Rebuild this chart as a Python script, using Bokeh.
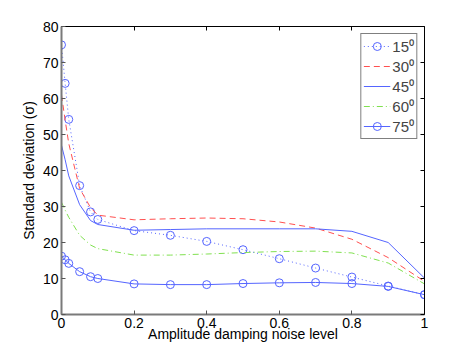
from bokeh.plotting import figure
from bokeh.models import Range1d, LinearAxis, FixedTicker, Legend, LegendItem, CustomJSTickFormatter
from bokeh.embed import file_html
from bokeh.resources import INLINE

# noise levels
x = [0, 0.01, 0.02, 0.05, 0.08, 0.1, 0.2, 0.3, 0.4, 0.5, 0.6, 0.7, 0.8, 0.9, 1.0]
# standard deviation for each angle
s15 = [74.9, 64.2, 54.2, 35.8, 28.5, 26.4, 23.3, 22.0, 20.3, 18.0, 15.5, 12.9, 10.4, 7.9, 5.5]
s30 = [61.0, 54.0, 47.5, 35.0, 29.7, 27.6, 26.3, 26.6, 26.8, 26.6, 25.7, 24.0, 20.9, 15.8, 9.2]
s45 = [47.0, 43.0, 38.5, 30.5, 26.1, 25.0, 23.4, 23.6, 23.8, 23.8, 23.8, 23.8, 23.1, 20.0, 10.1]
s60 = [31.2, 29.0, 27.0, 22.0, 19.3, 18.3, 16.5, 16.5, 16.8, 17.2, 17.5, 17.6, 17.1, 14.3, 8.5]
s75 = [16.2, 15.2, 14.2, 11.9, 10.5, 10.0, 8.5, 8.3, 8.3, 8.6, 8.8, 8.9, 8.6, 7.8, 5.5]
labels = ["15\u2070", "30\u2070", "45\u2070", "60\u2070", "75\u2070"]
xticks = [0, 0.2, 0.4, 0.6, 0.8, 1]
yticks = [0, 10, 20, 30, 40, 50, 60, 70, 80]

FONT = "Liberation Sans"
BLUE = "#5565ff"
RED = "#ff5050"
GREEN = "#80e050"

p = figure(width=453, height=344, output_backend="svg", toolbar_location=None,
           x_range=Range1d(0, 1), y_range=Range1d(0, 80),
           min_border_left=61, min_border_right=29, min_border_top=26, min_border_bottom=30)
p.xgrid.visible = False
p.ygrid.visible = False
p.outline_line_color = None
p.background_fill_color = "white"
p.border_fill_color = "white"

for ax, ticks in ((p.xaxis[0], xticks), (p.yaxis[0], yticks)):
    ax.ticker = FixedTicker(ticks=ticks)
    ax.major_tick_in = 4
    ax.major_tick_out = 0
    ax.minor_tick_line_color = None
    ax.axis_line_color = "#7a7a7a"
    ax.axis_line_width = 2
    ax.major_tick_line_color = "#555555"
    ax.major_label_text_font = FONT
    ax.major_label_text_font_size = "14px"
    ax.major_label_text_color = "black"
    ax.axis_label_text_font = FONT
    ax.axis_label_text_font_size = "14px"
    ax.axis_label_text_font_style = "normal"
    ax.axis_label_text_color = "black"

p.xaxis[0].axis_label = "Amplitude damping noise level"
p.xaxis[0].major_label_standoff = 3
p.xaxis[0].axis_label_standoff = -5
p.yaxis[0].axis_label = "Standard deviation (\u03c3)"
p.yaxis[0].major_label_standoff = 3
p.yaxis[0].axis_label_standoff = 3
p.xaxis[0].major_label_overrides = {0: "0", 1: "1"}

blank = CustomJSTickFormatter(code="return ''")
top = LinearAxis(ticker=FixedTicker(ticks=xticks), formatter=blank, major_tick_in=4, major_tick_out=0,
                 minor_tick_line_color=None, axis_line_color="black", major_label_text_font_size="0px",
                 major_label_standoff=0)
right = LinearAxis(ticker=FixedTicker(ticks=yticks), formatter=blank, major_tick_in=4, major_tick_out=0,
                   minor_tick_line_color=None, axis_line_color="black", major_label_text_font_size="0px",
                   major_label_standoff=0)
p.add_layout(top, "above")
p.add_layout(right, "right")

r15 = p.line(x, s15, line_color=BLUE, line_width=1, line_dash="1 3")
c15 = p.scatter(x, s15, marker="circle", size=8, fill_color=None, line_color=BLUE, line_width=1)
r30 = p.line(x, s30, line_color=RED, line_width=1, line_dash="6 4")
r45 = p.line(x, s45, line_color=BLUE, line_width=1)
r60 = p.line(x, s60, line_color=GREEN, line_width=1, line_dash="6 3 1 3")
r75 = p.line(x, s75, line_color=BLUE, line_width=1)
c75 = p.scatter(x, s75, marker="circle", size=8, fill_color=None, line_color=BLUE, line_width=1)

legend = Legend(items=[
    LegendItem(label=labels[0], renderers=[r15, c15]),
    LegendItem(label=labels[1], renderers=[r30]),
    LegendItem(label=labels[2], renderers=[r45]),
    LegendItem(label=labels[3], renderers=[r60]),
    LegendItem(label=labels[4], renderers=[r75, c75]),
], location="top_right")
legend.margin = 7
legend.padding = 2
legend.spacing = 0
legend.glyph_width = 27
legend.glyph_height = 20
legend.label_height = 20
legend.label_width = 10
legend.label_standoff = 2
legend.label_text_font = FONT
legend.label_text_font_size = "15px"
legend.border_line_color = "black"
legend.border_line_width = 1
legend.background_fill_color = "white"
legend.background_fill_alpha = 1
p.add_layout(legend)

open("out.html", "w").write(file_html(p, INLINE))
